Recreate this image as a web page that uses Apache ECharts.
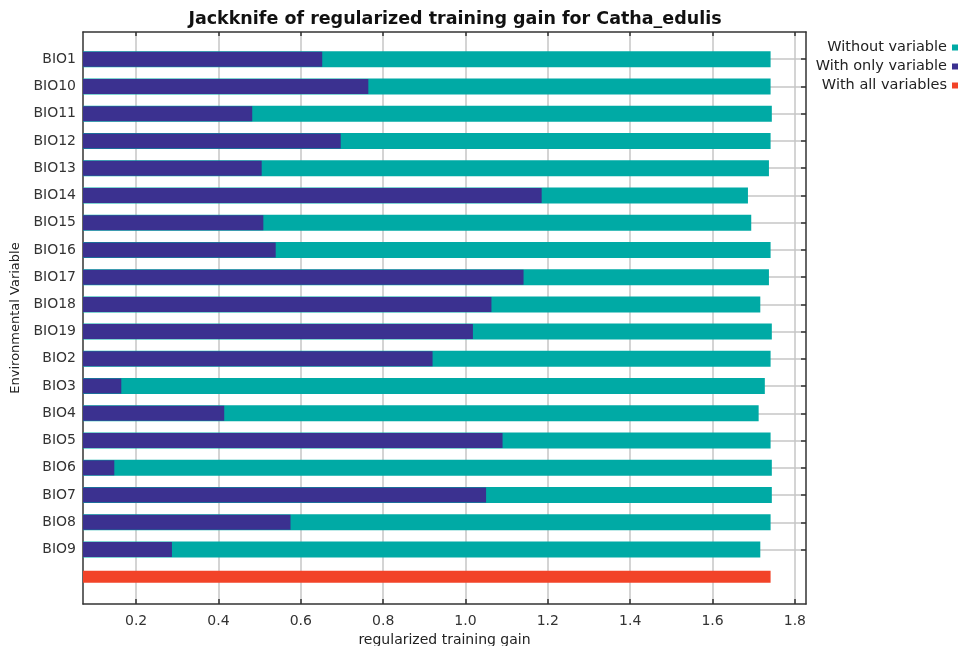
<!DOCTYPE html>
<html>
<head>
<meta charset="utf-8">
<script src="https://cdn.jsdelivr.net/npm/echarts@6/dist/echarts.min.js"></script>
<style>html,body{margin:0;padding:0;background:#fff}#c{width:964px;height:646px}</style>
</head>
<body>
<div id="c"></div>
<script>
// ---- data ----
const categories = ['BIO1','BIO10','BIO11','BIO12','BIO13','BIO14','BIO15','BIO16','BIO17','BIO18','BIO19','BIO2','BIO3','BIO4','BIO5','BIO6','BIO7','BIO8','BIO9'];
const withoutVariable = [1.741,1.741,1.744,1.741,1.737,1.686,1.694,1.741,1.737,1.716,1.744,1.741,1.727,1.712,1.741,1.744,1.744,1.741,1.716];
const withOnlyVariable = [0.652,0.764,0.482,0.697,0.505,1.185,0.509,0.539,1.141,1.063,1.018,0.920,0.164,0.414,1.090,0.147,1.050,0.575,0.287];
const withAllVariables = 1.741;
const xTicks = [0.2,0.4,0.6,0.8,1.0,1.2,1.4,1.6,1.8];
const xMin = 0.071, xMax = 1.827;

// ---- build ----
const yCats = ['_top'].concat(categories, ['_all', '_bottom']);
const pad = v => ['-'].concat(v, ['-', '-']);
const redData = yCats.map(c => c === '_all' ? withAllVariables : '-');
const isBio = (i, v) => typeof v === 'string' && v.indexOf('BIO') === 0;
const FONT = 'DejaVu Sans';

const baseY = {
  type: 'category', data: yCats, inverse: true, boundaryGap: false
};

const option = {
  animation: false,
  backgroundColor: '#ffffff',
  title: {
    text: 'Jackknife of regularized training gain for Catha_edulis',
    left: 450, top: 5, textAlign: 'center',
    textStyle: { fontFamily: FONT, fontWeight: 'bold', fontSize: 17.5, color: '#111' }
  },
  legend: {
    data: ['Without variable', 'With only variable', 'With all variables'],
    orient: 'vertical', right: 1, top: 35, align: 'right',
    icon: 'rect', itemWidth: 6, itemHeight: 6, itemGap: 4,
    textStyle: { fontFamily: FONT, fontSize: 14.5, color: '#222' }
  },
  grid: { left: 83, right: 158, top: 32, bottom: 42, containLabel: false, outerBoundsMode: 'none' },
  xAxis: [
    {
      type: 'value', min: xMin, max: xMax, position: 'bottom',
      name: 'regularized training gain', nameLocation: 'middle', nameGap: 29,
      nameTextStyle: { fontFamily: FONT, fontSize: 14, color: '#222' },
      axisLine: { show: true, lineStyle: { color: '#333', width: 1.5 } },
      axisTick: { show: true, inside: true, length: 5, customValues: xTicks, lineStyle: { color: '#333', width: 1.5 } },
      axisLabel: { customValues: xTicks, margin: 10, fontFamily: FONT, fontSize: 14, color: '#333',
        formatter: v => Number(v).toFixed(1) },
      splitLine: { show: true, lineStyle: { color: '#c6c6c6', width: 1.5 } }
    },
    {
      type: 'value', min: xMin, max: xMax, position: 'top',
      axisLine: { show: true, lineStyle: { color: '#333', width: 1.5 } },
      axisTick: { show: true, inside: true, length: 4, customValues: xTicks, lineStyle: { color: '#333', width: 1.5 } },
      axisLabel: { show: false },
      splitLine: { show: false }
    }
  ],
  yAxis: [
    Object.assign({}, baseY, {
      position: 'left',
      name: 'Environmental Variable', nameLocation: 'middle', nameGap: 58, nameRotate: 90,
      nameTextStyle: { fontFamily: FONT, fontSize: 13, color: '#222' },
      axisLine: { show: true, lineStyle: { color: '#333', width: 1.5 } },
      axisTick: { show: false },
      axisLabel: { show: true, interval: 0, margin: 7, fontFamily: FONT, fontSize: 14, color: '#333',
        formatter: v => (v.indexOf('BIO') === 0 ? v : '') },
      splitLine: { show: false }
    }),
    Object.assign({}, baseY, {
      position: 'right',
      axisLine: { show: true, lineStyle: { color: '#333', width: 1.5 } },
      axisTick: { show: true, inside: true, length: 5, interval: isBio, lineStyle: { color: '#333', width: 1.5 } },
      axisLabel: { show: false },
      splitLine: { show: true, interval: isBio, lineStyle: { color: '#c6c6c6', width: 1.5 } }
    }),
    Object.assign({}, baseY, {
      show: false
    })
  ],
  series: [
    {
      name: 'Without variable', type: 'bar', xAxisIndex: 0, yAxisIndex: 0,
      data: pad(withoutVariable), barWidth: 16,
      itemStyle: { color: '#00aaa5' }, clip: true
    },
    {
      name: 'With only variable', type: 'bar', xAxisIndex: 0, yAxisIndex: 1,
      data: pad(withOnlyVariable), barWidth: 15,
      itemStyle: { color: '#3b3190' }, clip: true
    },
    {
      name: 'With all variables', type: 'bar', xAxisIndex: 0, yAxisIndex: 2,
      data: redData, barWidth: 12,
      itemStyle: { color: '#f24328' }, clip: true
    }
  ]
};

const chart = echarts.init(document.getElementById('c'), null, { renderer: 'canvas' });
chart.setOption(option);
</script>
</body>
</html>
